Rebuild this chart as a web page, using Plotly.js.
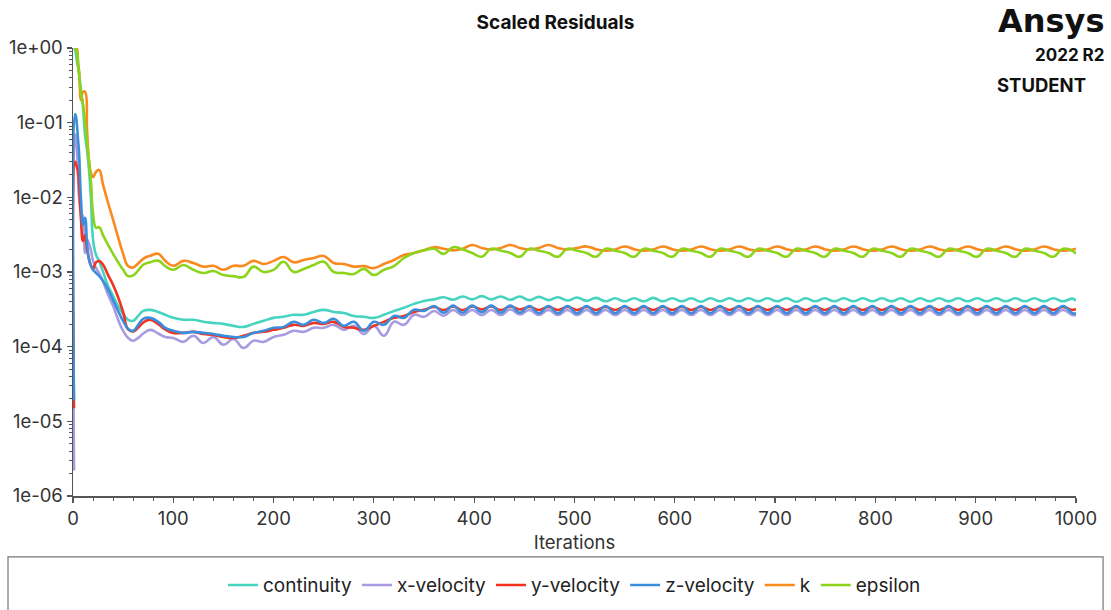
<!DOCTYPE html>
<html><head><meta charset="utf-8">
<script src="https://cdn.plot.ly/plotly-3.0.1.min.js"></script>
<style>html,body{margin:0;padding:0;background:#fff}#chart{width:1111px;height:610px}</style>
</head><body><div id="chart"></div>
<script>
const iterations = [
1,2,3,4,5,6,8,10,12,14,16,18,20,23,26,30,35,40,45,50,55,60,65,70,77,85,92,
100,110,120,130,140,150,160,170,180,190,200,210,220,230,240,250,260,270,280,290,300,310,320,330,340,350,
360,369.5,379,388.5,398,407.5,417,426.5,436,445.5,455,464.5,474,483.5,493,502.5,512,521.5,531,540.5,
550,559.5,569,578.5,588,597.5,607,616.5,626,635.5,645,654.5,664,673.5,683,692.5,702,711.5,721,730.5,
740,749.5,759,768.5,778,787.5,797,806.5,816,825.5,835,844.5,854,863.5,873,882.5,892,901.5,911,920.5,
930,939.5,949,958.5,968,977.5,987,996.5,1000];

const continuity = [
1,0.95,0.81,0.65,0.56,0.46,0.27,0.16,0.068,0.043,0.023,9.2e-3,2.7e-3,1.69e-3,1.41e-3,1.0e-3,6.5e-4,4.8e-4,3.52e-4,2.75e-4,2.29e-4,2.22e-4,2.58e-4,3.01e-4,3.11e-4,2.92e-4,2.67e-4,
2.43e-4,2.29e-4,2.29e-4,2.15e-4,2.08e-4,2.02e-4,1.90e-4,1.84e-4,2.02e-4,2.22e-4,2.43e-4,2.51e-4,2.67e-4,2.67e-4,2.92e-4,3.11e-4,2.92e-4,2.83e-4,2.58e-4,2.51e-4,2.43e-4,2.67e-4,3.01e-4,3.31e-4,3.74e-4,4.10e-4,
4.3e-4,4.6e-4,4.25e-4,4.7e-4,4.3e-4,4.75e-4,4.3e-4,4.7e-4,4.25e-4,4.7e-4,4.2e-4,4.65e-4,4.2e-4,4.6e-4,4.15e-4,4.55e-4,
4.1e-4,4.5e-4,4.05e-4,4.45e-4,4.05e-4,4.45e-4,4.05e-4,4.5e-4,4.05e-4,4.45e-4,4.05e-4,4.45e-4,4.0e-4,4.45e-4,
4.05e-4,4.45e-4,4.05e-4,4.45e-4,4.05e-4,4.45e-4,4.05e-4,4.45e-4,4.0e-4,4.45e-4,4.05e-4,4.45e-4,4.05e-4,4.45e-4,
4.05e-4,4.45e-4,4.05e-4,4.45e-4,4.05e-4,4.45e-4,4.0e-4,4.45e-4,4.05e-4,4.45e-4,4.05e-4,4.45e-4,4.05e-4,4.45e-4,
4.05e-4,4.45e-4,4.05e-4,4.45e-4,4.05e-4,4.45e-4,4.05e-4,4.45e-4,4.05e-4,4.4e-4,4.1e-4];

const xVelocity = [
2.2e-6,0.07,0.06,0.04,0.02,0.0101,6.4e-3,5.4e-3,1.8e-3,2.7e-3,2.4e-3,1.92e-3,1.41e-3,1.13e-3,9.7e-4,7.4e-4,4.94e-4,3.52e-4,2.29e-4,1.63e-4,1.31e-4,1.2e-4,1.31e-4,1.5e-4,1.68e-4,1.5e-4,1.35e-4,
1.31e-4,1.16e-4,1.40e-4,1.12e-4,1.35e-4,1.06e-4,1.27e-4,9.6e-5,1.20e-4,1.16e-4,1.35e-4,1.44e-4,1.63e-4,1.58e-4,1.79e-4,1.79e-4,1.96e-4,1.68e-4,1.90e-4,1.48e-4,1.90e-4,1.40e-4,2.15e-4,1.96e-4,2.67e-4,2.51e-4,
3.0e-4,2.6e-4,3.1e-4,2.65e-4,3.1e-4,2.65e-4,3.1e-4,2.65e-4,3.15e-4,2.7e-4,3.1e-4,2.65e-4,3.1e-4,2.65e-4,3.1e-4,2.65e-4,
3.1e-4,2.65e-4,3.1e-4,2.65e-4,3.1e-4,2.65e-4,3.1e-4,2.65e-4,3.1e-4,2.65e-4,3.1e-4,2.65e-4,3.1e-4,2.65e-4,
3.1e-4,2.65e-4,3.1e-4,2.65e-4,3.1e-4,2.65e-4,3.1e-4,2.65e-4,3.1e-4,2.65e-4,3.1e-4,2.65e-4,3.1e-4,2.65e-4,
3.1e-4,2.65e-4,3.1e-4,2.65e-4,3.1e-4,2.65e-4,3.1e-4,2.65e-4,3.1e-4,2.65e-4,3.1e-4,2.65e-4,3.1e-4,2.65e-4,
3.1e-4,2.65e-4,3.1e-4,2.65e-4,3.1e-4,2.65e-4,3.1e-4,2.65e-4,3.1e-4,2.65e-4,2.65e-4];

const yVelocity = [
1.5e-5,0.03,0.028,0.025,0.022,0.015,5.0e-3,2.6e-3,3.1e-3,2.0e-3,1.5e-3,1.21e-3,1.1e-3,1.35e-3,1.4e-3,1.25e-3,9.1e-4,6.7e-4,4.6e-4,2.9e-4,1.7e-4,1.6e-4,1.8e-4,2.1e-4,2.3e-4,2.0e-4,1.7e-4,
1.53e-4,1.53e-4,1.58e-4,1.48e-4,1.44e-4,1.35e-4,1.31e-4,1.40e-4,1.53e-4,1.58e-4,1.68e-4,1.79e-4,1.96e-4,1.90e-4,2.08e-4,2.02e-4,2.15e-4,1.84e-4,1.79e-4,1.68e-4,1.90e-4,2.15e-4,2.43e-4,2.58e-4,2.92e-4,3.11e-4,
3.4e-4,3.1e-4,3.45e-4,3.1e-4,3.45e-4,3.15e-4,3.45e-4,3.1e-4,3.45e-4,3.15e-4,3.4e-4,3.1e-4,3.4e-4,3.1e-4,3.4e-4,3.1e-4,
3.4e-4,3.1e-4,3.4e-4,3.1e-4,3.4e-4,3.1e-4,3.4e-4,3.1e-4,3.4e-4,3.1e-4,3.4e-4,3.1e-4,3.4e-4,3.1e-4,
3.4e-4,3.1e-4,3.4e-4,3.1e-4,3.4e-4,3.1e-4,3.4e-4,3.1e-4,3.4e-4,3.1e-4,3.4e-4,3.1e-4,3.4e-4,3.1e-4,
3.4e-4,3.1e-4,3.4e-4,3.1e-4,3.4e-4,3.1e-4,3.4e-4,3.1e-4,3.4e-4,3.1e-4,3.4e-4,3.1e-4,3.4e-4,3.1e-4,
3.4e-4,3.1e-4,3.4e-4,3.1e-4,3.4e-4,3.1e-4,3.4e-4,3.1e-4,3.4e-4,3.1e-4,3.2e-4];

const zVelocity = [
1.9e-5,0.13,0.12,0.09,0.06,0.04,9.2e-3,4.3e-3,5.3e-3,2.45e-3,1.45e-3,1.21e-3,1.07e-3,9.7e-4,8.9e-4,7.6e-4,5.8e-4,4.2e-4,3.0e-4,2.2e-4,1.73e-4,1.63e-4,1.96e-4,2.36e-4,2.43e-4,2.15e-4,1.79e-4,
1.63e-4,1.53e-4,1.58e-4,1.53e-4,1.48e-4,1.40e-4,1.35e-4,1.35e-4,1.53e-4,1.63e-4,1.79e-4,1.84e-4,2.15e-4,1.96e-4,2.29e-4,2.08e-4,2.36e-4,1.90e-4,2.15e-4,1.63e-4,2.15e-4,1.96e-4,2.58e-4,2.43e-4,3.11e-4,3.01e-4,
3.5e-4,2.85e-4,3.55e-4,2.85e-4,3.55e-4,2.9e-4,3.55e-4,2.85e-4,3.55e-4,2.85e-4,3.5e-4,2.8e-4,3.5e-4,2.8e-4,3.5e-4,2.8e-4,
3.5e-4,2.8e-4,3.5e-4,2.8e-4,3.5e-4,2.8e-4,3.5e-4,2.8e-4,3.5e-4,2.8e-4,3.5e-4,2.8e-4,3.5e-4,2.8e-4,
3.5e-4,2.8e-4,3.5e-4,2.8e-4,3.5e-4,2.8e-4,3.5e-4,2.8e-4,3.5e-4,2.8e-4,3.5e-4,2.8e-4,3.5e-4,2.8e-4,
3.5e-4,2.8e-4,3.5e-4,2.8e-4,3.5e-4,2.8e-4,3.5e-4,2.8e-4,3.5e-4,2.8e-4,3.5e-4,2.8e-4,3.5e-4,2.8e-4,
3.5e-4,2.8e-4,3.5e-4,2.8e-4,3.5e-4,2.8e-4,3.5e-4,2.8e-4,3.5e-4,2.8e-4,2.8e-4];

const kResidual = [
1,1,1,0.97,0.6,0.5,0.2,0.26,0.26,0.08,0.03,0.021,0.0187,0.022,0.0233,0.0147,8.4e-3,5.0e-3,2.9e-3,1.75e-3,1.2e-3,1.15e-3,1.3e-3,1.5e-3,1.65e-3,1.75e-3,1.41e-3,
1.21e-3,1.41e-3,1.32e-3,1.18e-3,1.21e-3,1.07e-3,1.21e-3,1.21e-3,1.41e-3,1.28e-3,1.41e-3,1.59e-3,1.35e-3,1.45e-3,1.54e-3,1.64e-3,1.32e-3,1.28e-3,1.18e-3,1.2e-3,1.13e-3,1.28e-3,1.45e-3,1.69e-3,1.8e-3,1.95e-3,
2.15e-3,2.05e-3,1.95e-3,2.05e-3,
2.3e-3,2.1e-3,2.0e-3,2.1e-3, 2.3e-3,2.1e-3,2.0e-3,2.1e-3, 2.3e-3,2.1e-3,2.0e-3,2.1e-3,
2.2e-3,2.02e-3,1.93e-3,2.0e-3, 2.2e-3,2.02e-3,1.93e-3,2.0e-3, 2.2e-3,2.02e-3,1.93e-3,2.0e-3,
2.2e-3,2.02e-3,1.93e-3,2.0e-3, 2.2e-3,2.02e-3,1.93e-3,2.0e-3, 2.2e-3,2.02e-3,1.93e-3,2.0e-3,
2.2e-3,2.02e-3,1.93e-3,2.0e-3, 2.2e-3,2.02e-3,1.93e-3,2.0e-3, 2.2e-3,2.02e-3,1.93e-3,2.0e-3,
2.2e-3,2.02e-3,1.93e-3,2.0e-3, 2.2e-3,2.02e-3,1.93e-3,2.0e-3, 2.2e-3,2.02e-3,1.93e-3,2.0e-3,
2.2e-3,2.02e-3,1.93e-3,2.0e-3,
2.05e-3];

const epsilon = [
1,1,0.95,0.86,0.69,0.45,0.25,0.178,0.1,0.055,0.03,0.0156,6.0e-3,3.9e-3,4.0e-3,3.1e-3,2.3e-3,1.75e-3,1.35e-3,1.07e-3,8.8e-4,9.0e-4,1.05e-3,1.25e-3,1.35e-3,1.42e-3,1.2e-3,
1.07e-3,1.24e-3,1.07e-3,9.7e-4,1.03e-3,9.1e-4,8.8e-4,8.6e-4,1.18e-3,1.0e-3,1.07e-3,1.37e-3,1.0e-3,1.1e-3,1.24e-3,1.37e-3,1.0e-3,9.7e-4,9.4e-4,1.1e-3,9.1e-4,1.07e-3,1.2e-3,1.54e-3,1.8e-3,1.95e-3,
2.05e-3,1.75e-3,2.15e-3,2.0e-3,
1.8e-3,1.6e-3,2.05e-3,1.92e-3, 1.8e-3,1.6e-3,2.05e-3,1.92e-3, 1.8e-3,1.6e-3,2.05e-3,1.92e-3, 1.8e-3,1.6e-3,2.05e-3,1.92e-3,
1.8e-3,1.6e-3,2.05e-3,1.92e-3, 1.8e-3,1.6e-3,2.05e-3,1.92e-3, 1.8e-3,1.6e-3,2.05e-3,1.92e-3, 1.8e-3,1.6e-3,2.05e-3,1.92e-3,
1.8e-3,1.6e-3,2.05e-3,1.92e-3, 1.8e-3,1.6e-3,2.05e-3,1.92e-3, 1.8e-3,1.6e-3,2.05e-3,1.92e-3, 1.8e-3,1.6e-3,2.05e-3,1.92e-3,
1.8e-3,1.6e-3,2.05e-3,1.92e-3, 1.8e-3,1.6e-3,2.05e-3,1.92e-3, 1.8e-3,1.6e-3,2.05e-3,1.92e-3, 1.8e-3,1.6e-3,2.05e-3,1.92e-3,
1.75e-3];

const seriesNames = ['continuity','x-velocity','y-velocity','z-velocity','k','epsilon'];
const seriesValues = [continuity, xVelocity, yVelocity, zVelocity, kResidual, epsilon];
const seriesColors = ['#46d3bf','#a99be0','#f2311f','#3b8edc','#fb8a1e','#8bd41b'];

const xTickVals = [0,100,200,300,400,500,600,700,800,900,1000];
const yTickVals = [1,1e-1,1e-2,1e-3,1e-4,1e-5,1e-6];
const yTickText = ['1e+00','1e-01','1e-02','1e-03','1e-04','1e-05','1e-06'];

const minorY = [];
yTickVals.slice(1).forEach(d => { for (let m = 2; m <= 9; m++) minorY.push(d * m); });

const traces = seriesNames.map((n, i) => ({
  type: 'scatter', mode: 'lines', name: n,
  x: iterations, y: seriesValues[i],
  line: {color: seriesColors[i], width: 2.6, shape: 'spline', smoothing: 1.3},
  hoverinfo: 'skip'
}));

const axisCommon = {
  showgrid: false, zeroline: false, showline: true, linecolor: '#555', linewidth: 1.5,
  ticks: 'outside', ticklen: 5, tickwidth: 1.2, tickcolor: '#555', automargin: false,
  tickfont: {size: 18.5, color: '#333'}
};

const layout = {
  width: 1111, height: 610,
  margin: {l: 73, r: 35, t: 48, b: 114, pad: 0, autoexpand: false},
  paper_bgcolor: '#fff', plot_bgcolor: '#fff',
  font: {family: 'Inter, "Noto Sans", sans-serif', color: '#222'},
  showlegend: true,
  title: {text: '<b>Scaled Residuals</b>', font: {size: 19, color: '#111'}, x: 0.5, xref: 'container', xanchor: 'center', y: 0.964, yref: 'container', yanchor: 'middle'},
  xaxis: Object.assign({}, axisCommon, {
    range: [0, 1000], tickmode: 'array', tickvals: xTickVals,
    minor: {ticks: 'outside', ticklen: 3, tickwidth: 1, tickcolor: '#555', dtick: 20, tick0: 0, showgrid: false},
    title: {text: 'Iterations', font: {size: 18.5, color: '#333'}, standoff: 8}
  }),
  yaxis: Object.assign({}, axisCommon, {
    type: 'log', range: [-6, 0], tickmode: 'array', tickvals: yTickVals, ticktext: yTickText,
    minor: {ticks: 'outside', ticklen: 3, tickwidth: 1, tickcolor: '#555', tickmode: 'array', tickvals: minorY, showgrid: false}
  }),
  legend: {orientation: 'h', x: 0.5, xanchor: 'center', y: -0.199, yanchor: 'middle',
    font: {size: 19, color: '#222'}, bgcolor: 'rgba(0,0,0,0)', itemwidth: 30, traceorder: 'normal'},
  shapes: [{type: 'rect', xref: 'paper', yref: 'paper', x0: -0.0648, x1: 1.027, y0: -0.136, y1: -0.32,
    line: {color: '#777', width: 1.2}, fillcolor: 'rgba(0,0,0,0)', layer: 'below'}],
  annotations: [
    {xref: 'paper', yref: 'paper', x: 1.031, y: 1.06, xanchor: 'right', yanchor: 'middle', showarrow: false,
     text: '<b>Ansys</b>', font: {size: 32, color: '#111', family: '"DejaVu Sans", sans-serif'}},
    {xref: 'paper', yref: 'paper', x: 1.031, y: 0.984, xanchor: 'right', yanchor: 'middle', showarrow: false,
     text: '<b>2022 R2</b>', font: {size: 17, color: '#111', family: 'Inter, sans-serif'}},
    {xref: 'paper', yref: 'paper', x: 0.966, y: 0.917, xanchor: 'center', yanchor: 'middle', showarrow: false,
     text: '<b>STUDENT</b>', font: {size: 18.5, color: '#111', family: 'Inter, sans-serif'}}
  ]
};

Plotly.newPlot('chart', traces, layout, {displayModeBar: false, staticPlot: true});
</script>
</body></html>
